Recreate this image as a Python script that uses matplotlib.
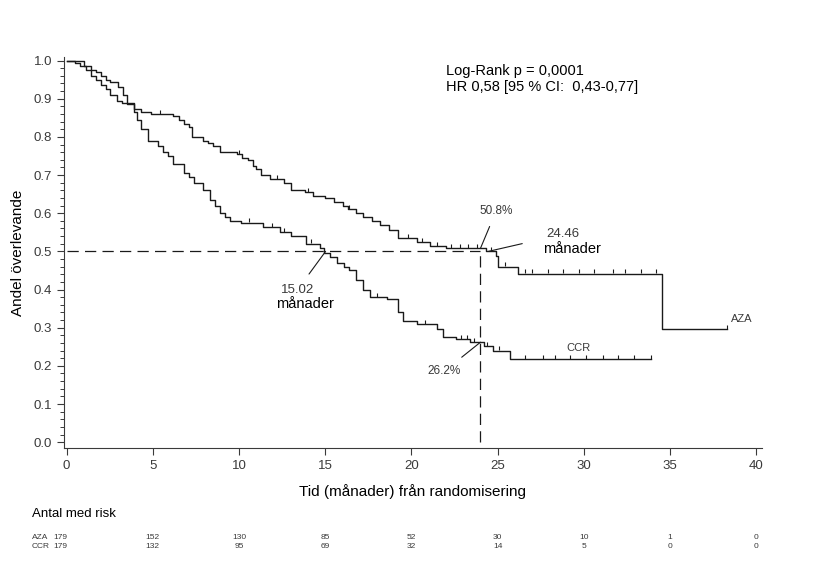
import numpy as np
import matplotlib.pyplot as plt
from matplotlib.ticker import MultipleLocator

# Kaplan-Meier steps
aza_time = [0, 0.5, 0.8, 1.1, 1.4, 1.7, 2.0, 2.3, 2.5, 2.9, 3.2, 3.5, 3.9, 4.3, 4.9,
            6.2, 6.5, 6.8, 7.1, 7.3, 7.9, 8.2, 8.5, 8.9, 9.9, 10.2, 10.5, 10.8, 11.0,
            11.3, 11.8, 12.6, 13.0, 13.8, 14.3, 15.0, 15.5, 16.0, 16.3, 16.8, 17.2,
            17.7, 18.2, 18.7, 19.2, 20.3, 21.1, 22.0, 24.3, 24.9, 25.0, 26.2, 34.5]
aza_surv = [1.0, 0.994, 0.985, 0.975, 0.96, 0.95, 0.935, 0.925, 0.91, 0.895, 0.89,
            0.885, 0.872, 0.865, 0.86, 0.855, 0.845, 0.835, 0.825, 0.80, 0.79, 0.783,
            0.775, 0.76, 0.755, 0.745, 0.74, 0.725, 0.715, 0.70, 0.69, 0.68, 0.66,
            0.655, 0.645, 0.64, 0.63, 0.62, 0.61, 0.60, 0.59, 0.58, 0.57, 0.555,
            0.535, 0.525, 0.513, 0.508, 0.50, 0.487, 0.46, 0.442, 0.296]
aza_end = 38.3
aza_cens = [5.4, 10.0, 12.2, 14.0, 16.4, 19.8, 20.6, 21.5, 22.3, 22.8, 23.3, 23.8,
            24.6, 25.4, 26.6, 27.0, 27.9, 28.8, 29.7, 30.6, 31.7, 32.4, 33.3, 34.2,
            38.3]

ccr_time = [0, 1.0, 1.4, 1.7, 2.0, 2.3, 2.5, 3.0, 3.3, 3.5, 3.9, 4.1, 4.3, 4.7, 5.3,
            5.6, 5.9, 6.2, 6.8, 7.1, 7.4, 7.9, 8.3, 8.6, 8.9, 9.2, 9.5, 10.1, 11.4,
            12.4, 13.0, 13.9, 14.7, 14.9, 15.3, 15.7, 16.1, 16.4, 16.8, 17.2, 17.6,
            18.6, 19.2, 19.5, 20.3, 21.5, 21.8, 22.6, 23.4, 24.2, 24.7, 25.7]
ccr_surv = [1.0, 0.985, 0.975, 0.97, 0.96, 0.95, 0.945, 0.93, 0.91, 0.89, 0.865,
            0.845, 0.82, 0.79, 0.775, 0.76, 0.75, 0.73, 0.705, 0.695, 0.68, 0.66,
            0.635, 0.62, 0.60, 0.59, 0.58, 0.575, 0.563, 0.55, 0.54, 0.52, 0.51,
            0.497, 0.485, 0.47, 0.46, 0.45, 0.425, 0.40, 0.38, 0.375, 0.34, 0.317,
            0.31, 0.296, 0.275, 0.27, 0.262, 0.252, 0.24, 0.217]
ccr_end = 33.9
ccr_cens = [10.6, 11.9, 12.6, 14.2, 18.0, 20.8, 22.9, 23.2, 23.6, 24.4, 25.1, 26.6,
            27.6, 28.3, 29.2, 30.1, 31.1, 32.0, 32.9, 33.9]

risk_times = [0, 5, 10, 15, 20, 25, 30, 35, 40]
risk_aza = [179, 152, 130, 85, 52, 30, 10, 1, 0]
risk_ccr = [179, 132, 95, 69, 32, 14, 5, 0, 0]

median_aza = 24.46
median_ccr = 15.02
surv24_aza = 0.508
surv24_ccr = 0.262

plt.rcParams['font.family'] = ['Liberation Sans', 'DejaVu Sans']
fig = plt.figure(figsize=(8.14, 5.62), dpi=100)
ax = fig.add_axes([0.0786, 0.203, 0.857, 0.696])

lc = '#1a1a1a'
gc = '#3a3a3a'


def km(ax, t, s, end, cens):
    tt = list(t) + [end]
    ss = list(s) + [s[-1]]
    ax.step(tt, ss, where='post', color=lc, lw=1.0)
    cy = [ss[np.searchsorted(tt, c, side='right') - 1] for c in cens]
    ax.plot(cens, np.array(cy) + 0.006, '|', color=lc, ms=3, mew=0.8)


km(ax, aza_time, aza_surv, aza_end, aza_cens)
km(ax, ccr_time, ccr_surv, ccr_end, ccr_cens)

# median / 24 month reference lines
ax.plot([0, 24], [0.5, 0.5], color=lc, lw=0.9, dashes=(9, 5))
ax.plot([24, 24], [0, 0.5], color=lc, lw=0.9, dashes=(9, 5))

ax.set_xlim(-0.15, 40.3)
ax.set_ylim(-0.015, 1.01)
ax.xaxis.set_major_locator(MultipleLocator(5))
ax.yaxis.set_major_locator(MultipleLocator(0.1))
ax.yaxis.set_minor_locator(MultipleLocator(0.02))
ax.yaxis.set_major_formatter(plt.FuncFormatter(lambda v, p: '%.1f' % v))
ax.tick_params(axis='both', direction='out', colors=gc, labelsize=9.5, length=5, width=0.8)
ax.tick_params(axis='y', which='minor', direction='out', length=3, width=0.7, colors=gc)
for sp in ['top', 'right']:
    ax.spines[sp].set_visible(False)
for sp in ['left', 'bottom']:
    ax.spines[sp].set_color(gc)

ax.set_xlabel('Tid (månader) från randomisering', fontsize=11, labelpad=9)
ax.set_ylabel('Andel överlevande', fontsize=11, labelpad=6)

ax.text(38.55, 0.322, 'AZA', fontsize=8, color=gc, va='center', ha='left')
ax.text(29.7, 0.246, 'CCR', fontsize=8, color=gc, ha='center', va='center')

ax.text(22.0, 0.99, 'Log-Rank p = 0,0001\nHR 0,58 [95 % CI:  0,43-0,77]',
        fontsize=10.5, va='top', linespacing=1.15)

ann = dict(color=lc, lw=0.8)
ax.annotate('50.8%', xy=(24.0, surv24_aza), xytext=(24.9, 0.605), fontsize=8.5,
            color=gc, ha='center', va='center',
            arrowprops=dict(arrowstyle='-', shrinkA=5, shrinkB=0, **ann))
ax.annotate('24.46', xy=(median_aza, 0.50), xytext=(28.8, 0.545), fontsize=9.5,
            color=gc, ha='center', va='center',
            arrowprops=dict(arrowstyle='-', shrinkA=16, shrinkB=0, **ann))
ax.text(29.3, 0.505, 'månader', fontsize=10.5, ha='center', va='center')
ax.annotate('15.02', xy=(median_ccr, 0.50), xytext=(13.4, 0.40), fontsize=9.5,
            color=gc, ha='center', va='center',
            arrowprops=dict(arrowstyle='-', shrinkA=6, shrinkB=0, **ann))
ax.text(13.8, 0.362, 'månader', fontsize=10.5, ha='center', va='center')
ax.annotate('26.2%', xy=(24.0, surv24_ccr), xytext=(21.9, 0.186), fontsize=8.5,
            color=gc, ha='center', va='center',
            arrowprops=dict(arrowstyle='-', shrinkA=6, shrinkB=0, **ann))

# number at risk table
tr = ax.get_xaxis_transform()
ax.text(-0.0465, -0.17, 'Antal med risk', transform=ax.transAxes, fontsize=9.5,
        va='center', ha='left')
for row, (name, vals) in enumerate([('AZA', risk_aza), ('CCR', risk_ccr)]):
    yy = -0.229 - row * 0.024
    ax.text(-0.0465, yy, name, transform=ax.transAxes, fontsize=6, va='center',
            ha='left', color=gc)
    for t, v in zip(risk_times, vals):
        xx = t - 0.35 if t == 0 else t
        ax.text(xx, yy, str(v), transform=tr, fontsize=6, va='center', ha='center',
                color=gc, clip_on=False)

fig.savefig('out.png', dpi=100)
